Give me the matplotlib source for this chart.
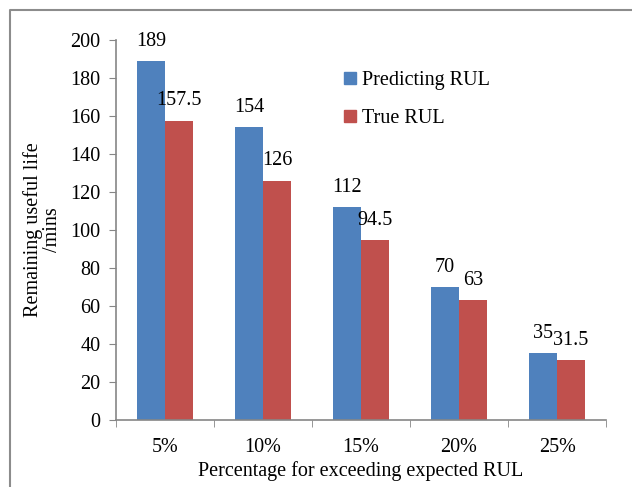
import numpy as np
import matplotlib.pyplot as plt
from matplotlib.lines import Line2D

plt.rcParams['font.family'] = ['Liberation Serif', 'DejaVu Serif']
plt.rcParams['font.size'] = 14.5

# RUL for each exceedance percentage
categories = ['5%', '10%', '15%', '20%', '25%']
predicting_rul = [189, 154, 112, 70, 35]
true_rul = [157.5, 126, 94.5, 63, 31.5]
series_names = ['Predicting RUL', 'True RUL']
colors = ['#4F81BD', '#C0504D']

fig = plt.figure(figsize=(6.32, 4.87), dpi=100)
ax = fig.add_axes([0.1835, 0.1376, 0.7755, 0.7805])

x = np.arange(len(categories))
w = 0.286
bars1 = ax.bar(x - w / 2, predicting_rul, w, color=colors[0], label=series_names[0])
bars2 = ax.bar(x + w / 2, true_rul, w, color=colors[1], label=series_names[1])

# value labels above each bar
for bars, vals in ((bars1, predicting_rul), (bars2, true_rul)):
    for b, v in zip(bars, vals):
        ax.annotate(f'{v:g}', (b.get_x() + b.get_width() / 2, v),
                    xytext=(0, 11), textcoords='offset points',
                    ha='center', va='baseline')

ax.set_xlim(-0.5, len(categories) - 0.5)
ax.set_ylim(0, 200)
ax.set_yticks(range(0, 201, 20))
ax.set_xticks(x)
ax.set_xticklabels(categories)
ax.set_xticks(np.arange(-0.5, len(categories)), minor=True)
ax.tick_params(axis='x', which='major', length=0, pad=13)
ax.tick_params(axis='x', which='minor', length=5, direction='out', color='#868686')
ax.tick_params(axis='y', length=5, direction='out', color='#868686', pad=6)

for s in ('top', 'right'):
    ax.spines[s].set_visible(False)
for s in ('left', 'bottom'):
    ax.spines[s].set_color('#868686')
    ax.spines[s].set_linewidth(1.2)

ax.set_xlabel('Percentage for exceeding expected RUL', labelpad=3)
ax.set_ylabel('Remaining useful life\n/mins', labelpad=6, linespacing=1.0,
              multialignment='center')

handles = [Line2D([], [], marker='s', linestyle='', markersize=8,
                  markerfacecolor=c, markeredgecolor=c) for c in colors]
ax.legend(handles, series_names, loc='upper left', bbox_to_anchor=(0.42, 0.965),
          frameon=False, handletextpad=0.1, labelspacing=0.9, handlelength=1.0)

# outer border of the figure
fig.add_artist(Line2D([10 / 632, 10 / 632, 1.0], [0.0, 1 - 10 / 487, 1 - 10 / 487],
                      transform=fig.transFigure, color='#8c8c8c', linewidth=1.5))

fig.savefig('out.png', dpi=100)
